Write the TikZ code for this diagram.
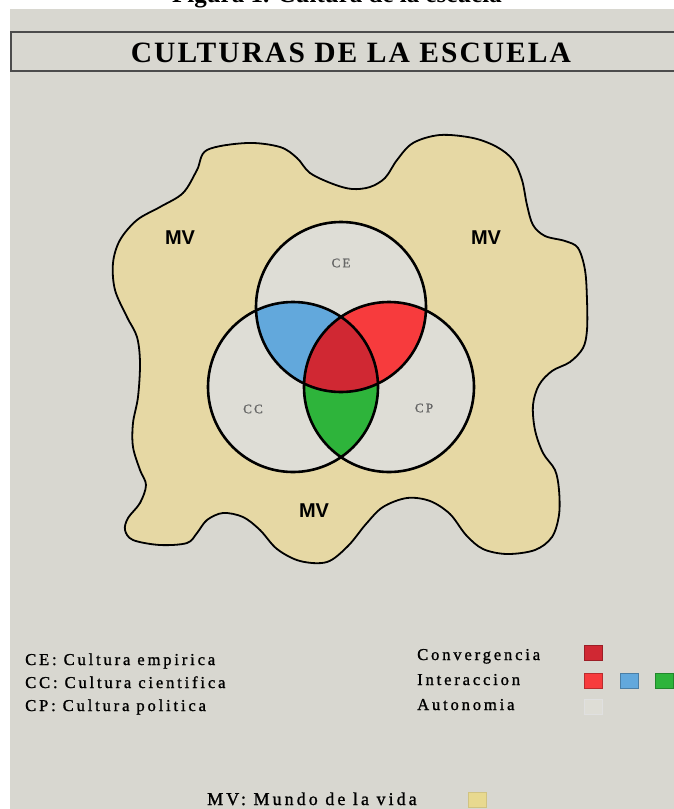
\documentclass[tikz,border=0pt]{standalone}
\usepackage{fontspec}
\setmainfont{Liberation Serif}
\newfontfamily\titlefont[LetterSpace=7]{Liberation Serif}
\newfontfamily\legendfont[LetterSpace=17, FakeBold=1.2]{Liberation Serif}
\newfontfamily\mvfont{Liberation Sans}
\usetikzlibrary{positioning}

\definecolor{paper}{HTML}{D8D7D0}
\definecolor{inner}{HTML}{DEDDD6}
\definecolor{sand}{HTML}{E6D8A4}
\definecolor{interblue}{HTML}{62A8DC}
\definecolor{interred}{HTML}{F73B3D}
\definecolor{intergreen}{HTML}{2EB43B}
\definecolor{convred}{HTML}{D02833}
\definecolor{mvyellow}{HTML}{E8D98F}

\begin{document}
\begin{tikzpicture}[
    x=1pt, y=-1pt,
    ring/.style={draw=black, line width=2.6pt},
    blob/.style={draw=black, line width=1.8pt, fill=sand},
    mvlabel/.style={font=\mvfont\bfseries\fontsize{20}{20}\selectfont},
    setlabel/.style={font=\legendfont\fontsize{13}{13}\selectfont, text=black!60},
    legend/.style={anchor=base west, inner sep=0pt, font=\legendfont\fontsize{16.6}{16.6}\selectfont},
    swatch/.style={draw=#1!75!black, line width=0.8pt, fill=#1, minimum width=18pt, minimum height=15pt, inner sep=0pt, anchor=north west}
]
\useasboundingbox (0,0) rectangle (674,809);
\clip (0,0) rectangle (674,809);

% Photo background and cut caption
\fill[white] (0,0) rectangle (674,809);
\fill[paper] (10,9) rectangle (674,809);
\node[anchor=base, inner sep=0pt, font=\bfseries\fontsize{25}{25}\selectfont] (caption) at (337,2) {Figura 1. Cultura de la escuela};

% Title
\draw[black!70, line width=1.2pt] (11,32) rectangle (690,71);
\node[anchor=base, inner sep=0pt, font=\titlefont\bfseries\fontsize{29.5}{29.5}\selectfont] (title) at (351,62) {CULTURAS DE LA ESCUELA};

% Mundo de la vida
\draw[blob] plot[smooth cycle, tension=0.55] coordinates {
    (207,150) (247,143) (280,147) (297,158) (310,173) (333,184) (352,189) (370,187)
    (385,178) (397,160) (413,143) (440,135) (473,138) (497,147) (513,160) (522,180)
    (527,205) (533,225) (545,236) (565,241) (578,248) (585,270) (587,300) (587,330)
    (583,348) (570,362) (552,371) (539,385) (533,405) (535,430) (543,453) (555,470)
    (559,490) (559,515) (552,537) (535,550) (507,554) (483,549) (466,535) (450,514)
    (430,501) (407,498) (383,507) (366,524) (348,546) (327,562) (300,561) (277,549)
    (260,530) (243,517) (223,513) (207,520) (197,533) (187,543) (160,545) (133,540)
    (125,530) (128,518) (140,503) (146,485) (140,470) (133,447) (133,423) (138,397)
    (140,363) (137,337) (127,317) (115,290) (113,263) (120,240) (137,220) (160,207)
    (183,193) (197,170)};

% Circle centres
\coordinate (ce) at (341,307);
\coordinate (cc) at (293,387);
\coordinate (cp) at (389,387);

% Autonomia
\fill[inner] (ce) circle[radius=85pt] (cc) circle[radius=85pt] (cp) circle[radius=85pt];

% Interaccion
\begin{scope}
    \clip (ce) circle[radius=85pt];
    \fill[interblue] (cc) circle[radius=85pt];
    \fill[interred] (cp) circle[radius=85pt];
\end{scope}
\begin{scope}
    \clip (cc) circle[radius=85pt];
    \fill[intergreen] (cp) circle[radius=85pt];
\end{scope}

% Convergencia
\begin{scope}
    \clip (ce) circle[radius=85pt];
    \clip (cc) circle[radius=85pt];
    \fill[convred] (cp) circle[radius=85pt];
\end{scope}

\draw[ring] (ce) circle[radius=85pt];
\draw[ring] (cc) circle[radius=85pt];
\draw[ring] (cp) circle[radius=85pt];

% Labels
\node[setlabel] (celabel) at (341,263) {CE};
\node[setlabel] (cclabel) at (253,409) {CC};
\node[setlabel] (cplabel) at (424,408) {CP};
\node[mvlabel] (mvleft) at (180,238) {MV};
\node[mvlabel] (mvright) at (486,238) {MV};
\node[mvlabel] (mvbottom) at (314,511) {MV};

% Legend, left column
\node[legend] (legce) at (25,665) {CE: Cultura empirica};
\node[legend] (legcc) at (25,688) {CC: Cultura cientifica};
\node[legend] (legcp) at (25,711) {CP: Cultura politica};

% Legend, right column
\node[legend] (legconv) at (417,660) {Convergencia};
\node[legend] (leginter) at (417,685) {Interaccion};
\node[legend] (legauto) at (417,710) {Autonomia};
\node[swatch=convred] (swconv) at (584,645) {};
\node[swatch=interred] (swred) at (584,673) {};
\node[swatch=interblue, right=17pt of swred.east, anchor=west] (swblue) {};
\node[swatch=intergreen, right=16pt of swblue.east, anchor=west] (swgreen) {};
\node[swatch=inner, draw=black!12] (swauto) at (584,699) {};

% Legend, bottom
\node[legend, font=\legendfont\fontsize{18}{18}\selectfont] (legmv) at (207,805) {MV: Mundo de la vida};
\node[swatch=mvyellow, draw=mvyellow!90!black] (swmv) at (468,792) {};

\end{tikzpicture}
\end{document}
